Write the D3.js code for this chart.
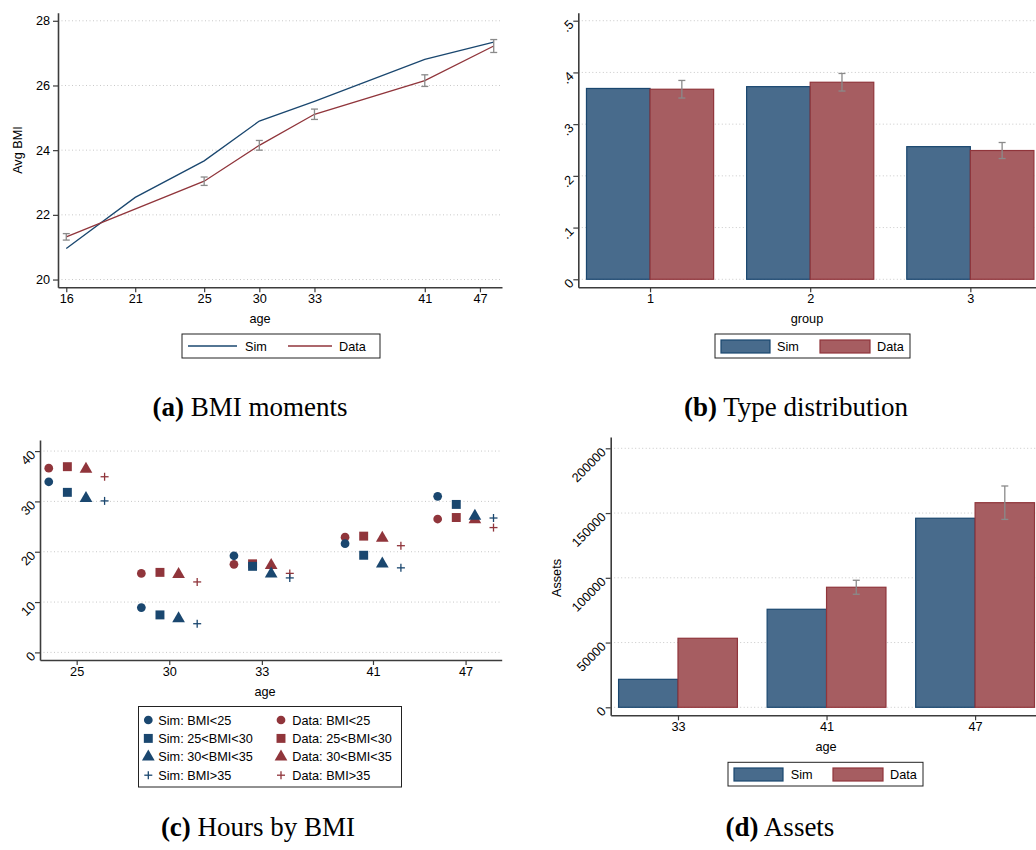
<!DOCTYPE html>
<html><head><meta charset="utf-8">
<script src="https://cdn.jsdelivr.net/npm/d3@7"></script>
<style>
body{margin:0;background:#fff}
text{font-family:"Liberation Sans",Arial,sans-serif;fill:#000}
.cap{font-family:"Liberation Serif","Times New Roman",serif}
</style>
</head><body>
<svg id="chart" width="1036" height="850"></svg>
<script>
// ---------- data ----------
// (a) BMI moments
const bmiTickPos = [0,5,10,14,18,26,30];
const bmiTickLabels = ["16","21","25","30","33","41","47"];
const bmiSimPos = [0,5,10,14,18,26,31];
const bmiSim = [20.96,22.54,23.67,24.90,25.51,26.81,27.34];
const bmiDataPos = [0,10,14,18,26,31];
const bmiData = [21.32,23.04,24.15,25.11,26.15,27.22];
const bmiDataErr = [0.10,0.13,0.15,0.16,0.18,0.20];
const bmiYTicks = [20,22,24,26,28];

// (b) Type distribution
const groups = ["1","2","3"];
const typeSim = [0.369,0.3725,0.2565];
const typeData = [0.3675,0.381,0.249];
const typeDataErr = [0.017,0.017,0.0155];
const typeYTicks = [0,0.1,0.2,0.3,0.4,0.5];
const typeYLabels = ["0",".1",".2",".3",".4",".5"];

// (c) Hours by BMI
const hoursAges = ["25","30","33","41","47"];
const hoursPos = [0,1,2,3.2,4.2];
const bmiClasses = ["BMI<25","25<BMI<30","30<BMI<35","BMI>35"];
const hoursSim = [[33.9,31.8,30.6,30.1],[8.9,7.45,6.7,5.7],[19.2,17.1,15.6,14.8],[21.6,19.3,17.6,16.8],[31.0,29.4,27.1,26.7]];
const hoursData = [[36.6,36.9,36.4,34.9],[15.7,15.9,15.5,14.0],[17.5,17.6,17.3,15.7],[22.9,23.1,22.7,21.2],[26.5,26.8,26.4,24.8]];
const hoursYTicks = [0,10,20,30,40];

// (d) Assets
const assetAges = ["33","41","47"];
const assetSim = [21600,75700,146000];
const assetData = [53300,92700,158000];
const assetDataErr = [null,5400,12900];
const assetYTicks = [0,50000,100000,150000,200000];

// ---------- style ----------
const NAVY = "#1a476f", MAROON = "#90353b";
const SIMFILL = "#486b8c", DATAFILL = "#a65d61";
const AXIS = "#3c3c3c", GRID = "#c8c8c8", ERR = "#8a8a8a";
const FS = 12.7;

const svg = d3.select("#chart");

function styleAxis(g){
  g.selectAll("path.domain").attr("stroke",AXIS).attr("stroke-width",1.6);
  g.selectAll(".tick line").attr("stroke",AXIS).attr("stroke-width",1.2);
  g.selectAll(".tick text").attr("font-size",FS).attr("fill","#000")
   .style("font-family",'"Liberation Sans",Arial,sans-serif');
}
function grid(y, ticks, x0, x1){
  svg.append("g").selectAll("line").data(ticks).join("line")
    .attr("x1",x0).attr("x2",x1).attr("y1",d=>y(d)).attr("y2",d=>y(d))
    .attr("stroke",GRID).attr("stroke-width",1).attr("stroke-dasharray","1,2.5");
}
function rotLabels(g){
  g.selectAll(".tick text").each(function(){
    d3.select(this).attr("x",0).attr("y",0).attr("dy","0.35em").attr("text-anchor","end")
      .attr("transform","translate(-7,1) rotate(-45)");
  });
}
function errBar(x, yLo, yHi){
  const g = svg.append("g").attr("stroke",ERR).attr("stroke-width",1.3);
  g.append("line").attr("x1",x).attr("x2",x).attr("y1",yLo).attr("y2",yHi);
  g.append("line").attr("x1",x-3.5).attr("x2",x+3.5).attr("y1",yLo).attr("y2",yLo);
  g.append("line").attr("x1",x-3.5).attr("x2",x+3.5).attr("y1",yHi).attr("y2",yHi);
}
function legendBox(x0,y0,w,h){
  svg.append("rect").attr("x",x0).attr("y",y0).attr("width",w).attr("height",h)
    .attr("fill","#fff").attr("stroke","#222").attr("stroke-width",1);
}
function txt(x,y,s,opts={}){
  const t = svg.append("text").attr("x",x).attr("y",y).attr("font-size",opts.size||FS)
    .attr("text-anchor",opts.anchor||"start").text(s);
  if(opts.rotate) t.attr("transform",`rotate(${opts.rotate},${x},${y})`);
  return t;
}

// ---------- (a) BMI moments ----------
{
  const x = d3.scaleLinear().domain([-0.6,31.6]).range([58,502]);
  const y = d3.scaleLinear().domain([19.76,28.25]).range([287.3,12.7]);
  grid(y,bmiYTicks,58,502);
  const gy = svg.append("g").attr("transform","translate(58,0)")
    .call(d3.axisLeft(y).tickValues(bmiYTicks).tickSize(5).tickSizeOuter(0).tickPadding(3));
  styleAxis(gy);
  const gx = svg.append("g").attr("transform","translate(0,287.3)")
    .call(d3.axisBottom(x).tickValues(bmiTickPos).tickFormat((d,i)=>bmiTickLabels[i]).tickSize(5).tickSizeOuter(0).tickPadding(2));
  styleAxis(gx);
  const line = d3.line().x(d=>x(d[0])).y(d=>y(d[1]));
  svg.append("path").datum(bmiSimPos.map((p,i)=>[p,bmiSim[i]])).attr("d",line)
    .attr("fill","none").attr("stroke",NAVY).attr("stroke-width",1.3);
  svg.append("path").datum(bmiDataPos.map((p,i)=>[p,bmiData[i]])).attr("d",line)
    .attr("fill","none").attr("stroke",MAROON).attr("stroke-width",1.3);
  bmiDataPos.forEach((p,i)=>errBar(x(p), y(bmiData[i]-bmiDataErr[i]), y(bmiData[i]+bmiDataErr[i])));
  txt(21.5,150,"Avg BMI",{anchor:"middle",rotate:-90});
  txt(260,323,"age",{anchor:"middle"});
  legendBox(182,334,198,24);
  svg.append("line").attr("x1",188).attr("x2",237).attr("y1",346).attr("y2",346).attr("stroke",NAVY).attr("stroke-width",1.3);
  txt(245,350.5,"Sim");
  svg.append("line").attr("x1",288).attr("x2",332).attr("y1",346).attr("y2",346).attr("stroke",MAROON).attr("stroke-width",1.3);
  txt(339,350.5,"Data");
}

// ---------- (b) Type distribution ----------
{
  const x = d3.scaleLinear().domain([0.552,3.41]).range([578.3,1036]);
  const y = d3.scaleLinear().domain([-0.0155,0.5155]).range([287.3,12.7]);
  const bw = 0.397;
  grid(y,typeYTicks,578.3,1036);
  const gs = groups.map((g,i)=>i+1);
  svg.append("g").selectAll("rect").data(gs).join("rect")
    .attr("x",d=>x(d-bw)).attr("width",x(bw)-x(0)).attr("y",(d,i)=>y(typeSim[i]))
    .attr("height",(d,i)=>y(0)-y(typeSim[i])).attr("fill",SIMFILL).attr("stroke",NAVY).attr("stroke-width",1.2);
  svg.append("g").selectAll("rect").data(gs).join("rect")
    .attr("x",d=>x(d)).attr("width",x(bw)-x(0)).attr("y",(d,i)=>y(typeData[i]))
    .attr("height",(d,i)=>y(0)-y(typeData[i])).attr("fill",DATAFILL).attr("stroke",MAROON).attr("stroke-width",1.2);
  gs.forEach((d,i)=>errBar(x(d+bw/2), y(typeData[i]-typeDataErr[i]), y(typeData[i]+typeDataErr[i])));
  const gy = svg.append("g").attr("transform","translate(578.3,0)")
    .call(d3.axisLeft(y).tickValues(typeYTicks).tickFormat((d,i)=>typeYLabels[i]).tickSize(5).tickSizeOuter(0));
  styleAxis(gy); rotLabels(gy);
  const gx = svg.append("g").attr("transform","translate(0,287.3)")
    .call(d3.axisBottom(x).tickValues(gs).tickFormat((d,i)=>groups[i]).tickSize(5).tickSizeOuter(0).tickPadding(2));
  styleAxis(gx);
  txt(807,323,"group",{anchor:"middle"});
  legendBox(715,334,195,24);
  svg.append("rect").attr("x",721).attr("y",340).attr("width",49).attr("height",13).attr("fill",SIMFILL).attr("stroke",NAVY).attr("stroke-width",1.2);
  txt(777,350.5,"Sim");
  svg.append("rect").attr("x",820).attr("y",340).attr("width",50).attr("height",13).attr("fill",DATAFILL).attr("stroke",MAROON).attr("stroke-width",1.2);
  txt(877,350.5,"Data");
}

// ---------- (c) Hours by BMI ----------
const symTypes = [d3.symbolCircle, d3.symbolSquare, d3.symbolTriangle, null];
const symSizes = [60, 80, 70, 0];
function marker(cx, cy, k, color){
  if(symTypes[k]){
    svg.append("path").attr("d",d3.symbol().type(symTypes[k]).size(symSizes[k])())
      .attr("transform",`translate(${cx},${cy})`).attr("fill",color);
  } else {
    const g = svg.append("g").attr("stroke",color).attr("stroke-width",1.3);
    g.append("line").attr("x1",cx-4).attr("x2",cx+4).attr("y1",cy).attr("y2",cy);
    g.append("line").attr("x1",cx).attr("x2",cx).attr("y1",cy-4).attr("y2",cy+4);
  }
}
{
  const x = d3.scaleLinear().domain([-0.396,4.59]).range([40,501.7]);
  const y = d3.scaleLinear().domain([-1.51,42.2]).range([660,440]);
  grid(y,hoursYTicks,40,501.7);
  const off = 0.201;
  hoursPos.forEach((p,i)=>{
    bmiClasses.forEach((c,k)=>{
      const cx = x(p + off*(k-1.5));
      marker(cx, y(hoursData[i][k]), k, MAROON);
      marker(cx, y(hoursSim[i][k]), k, NAVY);
    });
  });
  const gy = svg.append("g").attr("transform","translate(40,0)")
    .call(d3.axisLeft(y).tickValues(hoursYTicks).tickSize(5).tickSizeOuter(0));
  styleAxis(gy); rotLabels(gy);
  const gx = svg.append("g").attr("transform","translate(0,660)")
    .call(d3.axisBottom(x).tickValues(hoursPos).tickFormat((d,i)=>hoursAges[i]).tickSize(5).tickSizeOuter(0).tickPadding(2));
  styleAxis(gx);
  txt(265,696,"age",{anchor:"middle"});
  legendBox(138.5,706.5,263,80.5);
  bmiClasses.forEach((c,k)=>{
    const yy = 720 + k*18.4;
    marker(148.3, yy, k, NAVY);
    txt(158.3, yy+4.5, "Sim: "+c);
    marker(281, yy, k, MAROON);
    txt(292.3, yy+4.5, "Data: "+c);
  });
}

// ---------- (d) Assets ----------
{
  const x = d3.scaleLinear().domain([-0.453,2.41]).range([610.7,1036]);
  const y = d3.scaleLinear().domain([-6180,208730]).range([715.3,437]);
  const bw = 0.4;
  grid(y,assetYTicks,610.7,1036);
  const idx = assetAges.map((a,i)=>i);
  svg.append("g").selectAll("rect").data(idx).join("rect")
    .attr("x",d=>x(d-bw)).attr("width",x(bw)-x(0)).attr("y",d=>y(assetSim[d]))
    .attr("height",d=>y(0)-y(assetSim[d])).attr("fill",SIMFILL).attr("stroke",NAVY).attr("stroke-width",1.2);
  svg.append("g").selectAll("rect").data(idx).join("rect")
    .attr("x",d=>x(d)).attr("width",x(bw)-x(0)).attr("y",d=>y(assetData[d]))
    .attr("height",d=>y(0)-y(assetData[d])).attr("fill",DATAFILL).attr("stroke",MAROON).attr("stroke-width",1.2);
  idx.forEach(d=>{ if(assetDataErr[d]!=null) errBar(x(d+bw/2), y(assetData[d]-assetDataErr[d]), y(assetData[d]+assetDataErr[d])); });
  const gy = svg.append("g").attr("transform","translate(610.7,0)")
    .call(d3.axisLeft(y).tickValues(assetYTicks).tickFormat(d3.format("d")).tickSize(5).tickSizeOuter(0));
  styleAxis(gy); rotLabels(gy);
  const gx = svg.append("g").attr("transform","translate(0,715.3)")
    .call(d3.axisBottom(x).tickValues(idx).tickFormat(d=>assetAges[d]).tickSize(5).tickSizeOuter(0).tickPadding(2));
  styleAxis(gx);
  txt(561,578,"Assets",{anchor:"middle",rotate:-90});
  txt(826,751,"age",{anchor:"middle"});
  legendBox(728,762.3,195,23.7);
  svg.append("rect").attr("x",734).attr("y",768).attr("width",49).attr("height",13).attr("fill",SIMFILL).attr("stroke",NAVY).attr("stroke-width",1.2);
  txt(790.7,778.5,"Sim");
  svg.append("rect").attr("x",833).attr("y",768).attr("width",50).attr("height",13).attr("fill",DATAFILL).attr("stroke",MAROON).attr("stroke-width",1.2);
  txt(890,778.5,"Data");
}

// ---------- captions ----------
function caption(cx, y, letter, rest){
  const t = svg.append("text").attr("class","cap").attr("x",cx).attr("y",y)
    .attr("text-anchor","middle").attr("font-size",27).style("font-family",'"Liberation Serif","Times New Roman",serif');
  t.append("tspan").attr("font-weight","bold").text("(" + letter + ")");
  t.append("tspan").text(" " + rest);
}
caption(250,416,"a","BMI moments");
caption(796,416,"b","Type distribution");
caption(258,836,"c","Hours by BMI");
caption(780,836,"d","Assets");
</script>
</body></html>
